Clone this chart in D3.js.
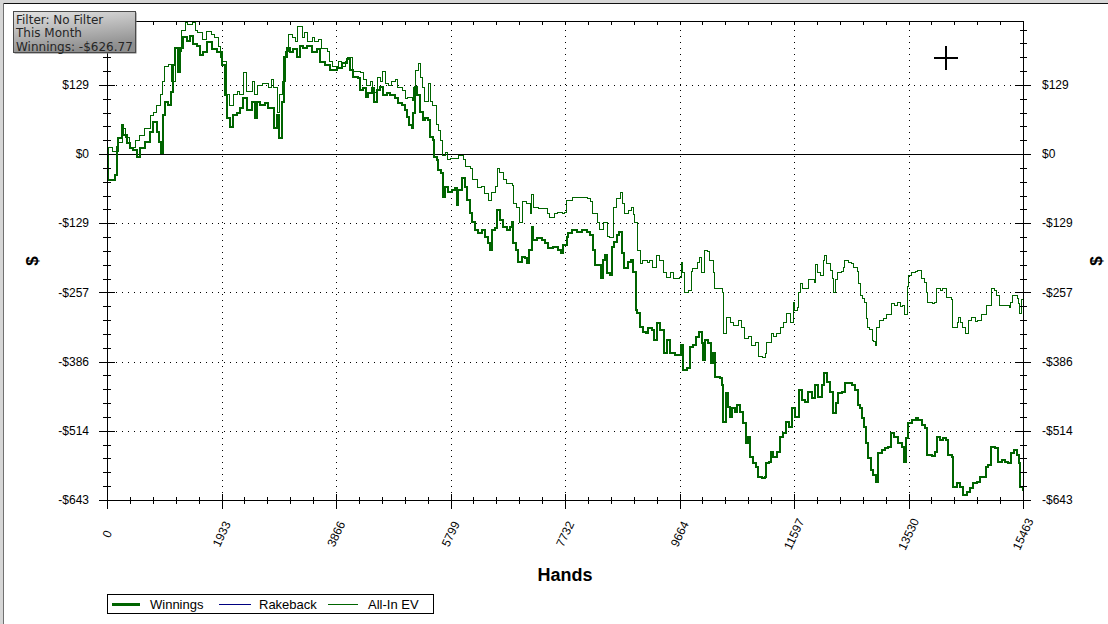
<!DOCTYPE html>
<html><head><meta charset="utf-8">
<script src="https://cdn.jsdelivr.net/npm/d3@7"></script>
<style>body{margin:0;background:#fff;overflow:hidden}svg{display:block}</style>
</head><body>
<svg id="chart" width="1108" height="624"></svg>
<script>
// ---------------- DATA ----------------
const xTickValues = [0, 1932.875, 3865.75, 5798.625, 7731.5, 9664.375, 11597.25, 13530.125, 15463];
const xTickLabels = ["0", "1933", "3866", "5799", "7732", "9664", "11597", "13530", "15463"];
const yTickValues = [128.6, 0, -128.6, -257.2, -385.8, -514.4, -643];
const yTickLabels = ["$129", "$0", "-$129", "-$257", "-$386", "-$514", "-$643"];
const seriesNames = ["Winnings", "Rakeback", "All-In EV"];
const infoLines = ["Filter: No Filter", "This Month", "Winnings: -$626.77"];

// [hands, dollars]
const winnings = [
[0,-2],[17,-48],[135,-39],[164,13],[191,30],[248,54],[275,35],[333,20],[388,11],[439,7],[506,-6],[557,11],[641,22],[726,41],[777,59],[844,41],[878,22],[912,2],[940,72],[979,97],[1030,91],[1075,115],[1109,166],[1148,197],[1199,153],[1232,197],[1283,217],[1350,210],[1401,219],[1452,204],[1519,200],[1570,185],[1621,190],[1688,208],[1772,195],[1857,190],[1941,166],[1992,110],[2026,67],[2076,50],[2127,72],[2195,76],[2245,85],[2296,104],[2363,82],[2448,97],[2498,67],[2532,97],[2583,91],[2667,95],[2718,85],[2785,85],[2819,48],[2870,72],[2904,30],[2954,97],[2988,180],[3039,197],[3089,190],[3140,195],[3207,180],[3258,200],[3309,197],[3376,200],[3461,190],[3545,195],[3596,172],[3680,166],[3764,156],
[3883,160],[3967,170],[4051,176],[4102,156],[4153,143],[4237,141],[4271,119],[4322,122],[4372,106],[4406,113],[4473,122],[4507,96],[4558,119],[4609,124],[4659,110],[4727,113],[4777,110],[4862,104],[4912,95],[4980,91],[5031,82],[5064,69],[5098,54],[5149,48],[5166,76],[5199,124],[5233,110],[5284,78],[5334,63],[5368,67],[5419,63],[5453,31],[5503,26],[5520,-6],[5571,-11],[5588,-30],[5638,-35],[5672,-80],[5706,-62],[5756,-71],[5824,-67],[5875,-63],[5908,-95],[5925,-67],[5993,-45],[6043,-62],[6077,-86],[6128,-110],[6162,-127],[6212,-141],[6263,-147],[6330,-141],[6381,-154],[6432,-166],[6465,-179],[6499,-141],[6550,-138],[6584,-104],[6634,-123],[6685,-136],[6752,-141],[6803,-136],[6837,-127],[6854,-166],[6904,-179],[6938,-201],[7006,-192],[7056,-193],[7090,-203],[7124,-179],[7174,-136],[7191,-160],[7259,-156],[7343,-160],[7394,-166],[7444,-175],[7529,-173],[7613,-179],[7664,-184],[7698,-169],[7765,-154],
[7782,-147],[7850,-141],[7934,-145],[8018,-141],[8103,-145],[8154,-151],[8204,-179],[8238,-206],[8289,-206],[8339,-231],[8373,-197],[8407,-188],[8441,-221],[8491,-225],[8525,-173],[8559,-164],[8609,-151],[8643,-145],[8694,-184],[8728,-212],[8795,-201],[8846,-197],[8880,-219],[8930,-290],[8947,-296],[8998,-322],[9048,-331],[9099,-333],[9133,-324],[9200,-327],[9234,-346],[9284,-314],[9335,-327],[9403,-370],[9453,-346],[9504,-370],[9588,-374],[9639,-374],[9690,-355],[9723,-401],[9791,-398],[9842,-359],[9892,-355],[9943,-340],[9994,-331],[10044,-351],[10061,-383],[10095,-346],[10146,-351],[10196,-388],[10230,-370],[10264,-414],[10348,-416],
[10382,-429],[10399,-498],[10449,-444],[10483,-470],[10517,-489],[10551,-472],[10601,-480],[10635,-466],[10686,-480],[10737,-500],[10787,-537],[10821,-526],[10855,-563],[10905,-574],[10956,-582],[10990,-600],[11058,-602],[11108,-600],[11125,-574],[11175,-572],[11209,-554],[11243,-563],[11310,-554],[11361,-526],[11412,-519],[11462,-498],[11513,-507],[11564,-472],[11614,-489],[11682,-439],[11732,-457],[11783,-461],[11834,-442],[11901,-453],[11951,-429],[12002,-452],[12070,-429],[12103,-407],[12154,-424],[12205,-442],[12255,-481],[12306,-463],[12340,-444],[12408,-442],[12458,-426],[12509,-426],[12576,-429],[12627,-439],[12677,-467],[12711,-472],[12745,-491],[12779,-507],[12813,-537],[12846,-565],[12897,-587],[12931,-597],[12981,-610],[13015,-556],[13083,-550],[13133,-546],[13184,-544],[13234,-519],[13285,-526],[13353,-537],[13420,-544],[13454,-572],[13488,-528],[13522,-500],[13589,-494],[13657,-491],[13690,-494],[13758,-504],[13808,-509],[13842,-559],[13927,-561],[13977,-554],[14011,-526],[14062,-531],[14112,-528],[14163,-531],[14197,-559],[14264,-563],[14281,-619],[14349,-611],[14399,-619],[14450,-634],[14518,-628],[14568,-621],[14619,-611],[14686,-610],[14737,-600],[14788,-600],[14838,-582],[14872,-578],[14923,-544],[14990,-546],[15041,-572],[15108,-569],[15159,-572],[15210,-574],[15260,-555],[15311,-550],[15362,-559],[15396,-574],[15412,-619],[15463,-627]
];

const allInEV = [
[0,-2],[17,13],[101,4],[186,22],[270,48],[304,30],[388,13],[473,26],[557,35],[641,48],[726,72],[777,78],[844,91],[895,110],[945,134],[979,162],[1030,166],[1097,134],[1148,197],[1199,190],[1266,230],[1317,245],[1367,240],[1435,245],[1486,230],[1536,226],[1604,213],[1688,228],[1772,222],[1823,217],[1874,200],[1924,180],[1958,172],[2009,110],[2076,91],[2127,110],[2195,116],[2245,110],[2296,151],[2363,116],[2448,134],[2498,110],[2549,128],[2633,132],[2718,124],[2785,138],[2819,124],[2870,78],[2920,110],[2971,134],[3005,190],[3056,222],[3123,217],[3174,210],[3224,237],[3292,217],[3342,226],[3393,210],[3461,217],[3511,210],[3562,213],[3629,197],[3714,190],[3764,172],[3815,162],
[3900,172],[3967,162],[4018,172],[4068,180],[4136,153],[4220,153],[4271,151],[4322,138],[4389,128],[4440,134],[4490,115],[4558,143],[4625,134],[4659,153],[4693,132],[4744,128],[4811,134],[4862,138],[4912,124],[4980,119],[5031,104],[5081,106],[5149,100],[5182,124],[5216,156],[5250,169],[5284,143],[5318,124],[5368,97],[5419,132],[5453,97],[5503,91],[5554,54],[5588,44],[5638,26],[5672,-2],[5706,2],[5740,-11],[5807,-8],[5875,-8],[5942,-2],[6010,-11],[6060,-24],[6128,-26],[6178,-48],[6246,-63],[6330,-61],[6381,-73],[6432,-86],[6499,-71],[6550,-61],[6600,-26],[6634,-35],[6685,-48],[6752,-54],[6837,-58],[6854,-91],[6921,-99],[6955,-127],[7006,-89],[7090,-91],[7141,-110],[7174,-76],[7208,-99],[7276,-101],[7360,-101],[7428,-110],[7478,-117],[7546,-110],[7613,-108],[7681,-110],
[7731,-108],[7765,-86],[7850,-80],[7934,-80],[8018,-80],[8103,-82],[8154,-89],[8204,-110],[8272,-128],[8322,-141],[8373,-127],[8441,-154],[8491,-156],[8542,-99],[8609,-82],[8660,-71],[8694,-91],[8744,-110],[8795,-104],[8846,-99],[8880,-113],[8913,-128],[8947,-179],[8998,-203],[9048,-197],[9116,-201],[9166,-197],[9217,-210],[9284,-188],[9335,-197],[9386,-221],[9453,-229],[9504,-221],[9555,-231],[9622,-231],[9656,-229],[9690,-201],[9723,-221],[9757,-257],[9808,-253],[9859,-219],[9892,-212],[9960,-201],[9994,-192],[10044,-221],[10078,-179],[10129,-182],[10179,-197],[10230,-221],[10247,-249],[10314,-249],[10382,-258],[10399,-333],[10466,-303],[10517,-314],[10568,-318],[10652,-309],[10719,-322],[10770,-342],[10821,-340],[10888,-355],[10939,-351],[10990,-377],[11058,-379],[11108,-370],[11141,-351],[11209,-333],[11243,-340],[11310,-333],[11361,-323],[11412,-314],[11479,-296],[11530,-314],
[11581,-275],[11614,-290],[11648,-286],[11665,-258],[11715,-240],[11749,-249],[11800,-249],[11834,-234],[11901,-234],[11935,-238],[11968,-206],[12002,-221],[12053,-225],[12087,-197],[12120,-188],[12154,-203],[12205,-216],[12239,-231],[12272,-257],[12306,-234],[12340,-221],[12391,-219],[12425,-210],[12458,-197],[12509,-201],[12576,-203],[12610,-210],[12661,-219],[12694,-240],[12728,-262],[12762,-268],[12779,-275],[12813,-305],[12846,-322],[12880,-327],[12914,-346],[12931,-349],[12981,-355],[12998,-323],[13049,-309],[13100,-305],[13167,-299],[13218,-299],[13251,-277],[13302,-281],[13336,-275],[13387,-284],[13437,-281],[13471,-299],[13505,-247],[13522,-225],[13589,-221],[13640,-219],[13690,-216],[13758,-231],[13808,-238],[13842,-257],[13859,-275],[13927,-277],[13977,-275],[14011,-249],[14062,-253],[14112,-249],[14146,-249],[14180,-266],[14264,-271],[14281,-322],[14349,-314],[14366,-303],[14416,-314],[14450,-323],[14484,-333],[14535,-309],[14602,-303],[14653,-312],[14703,-309],[14754,-299],[14821,-299],[14855,-281],[14889,-281],[14923,-249],[14990,-253],[15024,-262],[15058,-281],[15125,-281],[15193,-281],[15227,-286],[15260,-275],[15294,-262],[15362,-268],[15379,-277],[15412,-296],[15446,-271],[15463,-281]
];

// ---------------- CHART ----------------
const svg = d3.select("#chart");
const L = 107, R = 1023, T = 21, B = 500;
const x = d3.scaleLinear().domain([0, 15463]).range([L, R]);
const y = d3.scaleLinear().domain([-643, 247.3]).range([B, T]);
const font = "'Liberation Sans', Arial, sans-serif";

// window chrome
svg.append("rect").attr("x",0).attr("y",0).attr("width",1108).attr("height",3).attr("fill","#d6d6d6");
svg.append("rect").attr("x",0).attr("y",0).attr("width",3).attr("height",624).attr("fill","#d6d6d6");
svg.append("line").attr("x1",3).attr("x2",1108).attr("y1",3.5).attr("y2",3.5).attr("stroke","#111");
svg.append("line").attr("x1",3.5).attr("x2",3.5).attr("y1",3).attr("y2",624).attr("stroke","#707070");

// grid (dotted)
const grid = svg.append("g").attr("stroke","#000").attr("stroke-width",1).attr("stroke-dasharray","1,5")
  .attr("shape-rendering","crispEdges");
xTickValues.slice(1, -1).forEach(v => {
  const px = Math.round(x(v)) + 0.5;
  grid.append("line").attr("x1",px).attr("x2",px).attr("y1",T+3).attr("y2",B);
});
yTickValues.filter(v => v !== 0 && v !== -643).forEach(v => {
  const py = Math.round(y(v)) + 0.5;
  grid.append("line").attr("x1",L+3).attr("x2",R).attr("y1",py).attr("y2",py);
});

// zero line
svg.append("line").attr("x1",L).attr("x2",R).attr("y1",Math.round(y(0))+0.5).attr("y2",Math.round(y(0))+0.5)
  .attr("stroke","#000").attr("stroke-width",1).attr("shape-rendering","crispEdges");

// series (step-wise, as the tracker draws them)
const line = d3.line().x(d => x(d[0])).y(d => y(d[1])).curve(d3.curveStepAfter);
svg.append("path").datum(allInEV).attr("d", line).attr("fill","none")
  .attr("stroke","#006400").attr("stroke-width",1).attr("shape-rendering","crispEdges");
svg.append("path").datum(winnings).attr("d", line).attr("fill","none")
  .attr("stroke","#006400").attr("stroke-width",2).attr("shape-rendering","crispEdges");

// frame
svg.append("rect").attr("x",L+0.5).attr("y",T+0.5).attr("width",R-L).attr("height",B-T)
  .attr("fill","none").attr("stroke","#000").attr("stroke-width",1).attr("shape-rendering","crispEdges");

// ticks
const tk = svg.append("g").attr("stroke","#000").attr("stroke-width",1).attr("shape-rendering","crispEdges");
const yMinor = d3.range(-643, 247.3, 25.72);
yMinor.forEach(v => {
  const py = Math.round(y(v)) + 0.5;
  tk.append("line").attr("x1",L-4).attr("x2",L+4).attr("y1",py).attr("y2",py);
  tk.append("line").attr("x1",R-3).attr("x2",R+4).attr("y1",py).attr("y2",py);
});
yTickValues.forEach(v => {
  const py = Math.round(y(v)) + 0.5;
  tk.append("line").attr("x1",L-8).attr("x2",L+8).attr("y1",py).attr("y2",py);
  tk.append("line").attr("x1",R-8).attr("x2",R+8).attr("y1",py).attr("y2",py);
});
const xMinor = d3.range(0, 15464, 386.575);
xMinor.forEach(v => {
  const px = Math.round(x(v)) + 0.5;
  tk.append("line").attr("x1",px).attr("x2",px).attr("y1",B-3).attr("y2",B+4);
  tk.append("line").attr("x1",px).attr("x2",px).attr("y1",T).attr("y2",T+4);
});
xTickValues.forEach(v => {
  const px = Math.round(x(v)) + 0.5;
  tk.append("line").attr("x1",px).attr("x2",px).attr("y1",B-6).attr("y2",B+9);
});

// tick labels
yTickValues.forEach((v, i) => {
  svg.append("text").attr("x", 89).attr("y", y(v)).attr("dy","0.35em")
    .attr("text-anchor","end").attr("font-family",font).attr("font-size",12).attr("fill","#000")
    .text(yTickLabels[i]);
  svg.append("text").attr("x", 1042).attr("y", y(v)).attr("dy","0.35em")
    .attr("text-anchor","start").attr("font-family",font).attr("font-size",12).attr("fill","#000")
    .text(yTickLabels[i]);
});
xTickValues.forEach((v, i) => {
  svg.append("text").attr("transform",`translate(${x(v)},534) rotate(-65)`)
    .attr("dy","0.35em").attr("text-anchor","middle").attr("font-family",font).attr("font-size",12)
    .attr("fill","#000").text(xTickLabels[i]);
});

// axis titles
svg.append("text").attr("transform","translate(32,261) rotate(-90)").attr("dy","0.35em")
  .attr("text-anchor","middle").attr("font-family",font).attr("font-size",17).attr("font-weight","bold").text("$");
svg.append("text").attr("transform","translate(1096,261) rotate(-90)").attr("dy","0.35em")
  .attr("text-anchor","middle").attr("font-family",font).attr("font-size",17).attr("font-weight","bold").text("$");
svg.append("text").attr("x",565).attr("y",581).attr("text-anchor","middle").attr("font-family",font)
  .attr("font-size",18).attr("font-weight","bold").text("Hands");

// legend
const lg = svg.append("g");
lg.append("rect").attr("x",107.5).attr("y",594.5).attr("width",326).attr("height",19)
  .attr("fill","#fff").attr("stroke","#000").attr("stroke-width",1).attr("shape-rendering","crispEdges");
const legendStyles = [
  {x1:112, x2:140, tx:150, color:"#006400", w:3},
  {x1:219, x2:251, tx:259, color:"#000080", w:1},
  {x1:328, x2:358, tx:368, color:"#006400", w:1}
];
seriesNames.forEach((name, i) => {
  const s = legendStyles[i];
  lg.append("line").attr("x1",s.x1).attr("x2",s.x2).attr("y1",604.5).attr("y2",604.5)
    .attr("stroke",s.color).attr("stroke-width",s.w).attr("shape-rendering","crispEdges");
  lg.append("text").attr("x",s.tx).attr("y",604).attr("dy","0.36em").attr("font-family",font)
    .attr("font-size",13).attr("fill","#000").text(name);
});

// crosshair cursor
svg.append("line").attr("x1",934).attr("x2",958).attr("y1",58).attr("y2",58).attr("stroke","#000").attr("stroke-width",2);
svg.append("line").attr("x1",946).attr("x2",946).attr("y1",46).attr("y2",70).attr("stroke","#000").attr("stroke-width",2);

// info box
const defs = svg.append("defs");
const grad = defs.append("linearGradient").attr("id","boxg").attr("x1","0").attr("y1","0").attr("x2","0.3").attr("y2","1");
grad.append("stop").attr("offset","0%").attr("stop-color","#e4e4e4");
grad.append("stop").attr("offset","100%").attr("stop-color","#8e8e8e");
svg.append("rect").attr("x",14.5).attr("y",12.5).attr("width",122).attr("height",41).attr("fill","#777");
svg.append("rect").attr("x",13.5).attr("y",11.5).attr("width",122).attr("height",41)
  .attr("fill","url(#boxg)").attr("stroke","#4a4a4a").attr("stroke-width",1);
infoLines.forEach((t, i) => {
  svg.append("text").attr("x",16).attr("y",24 + i*13.3).attr("font-family","'DejaVu Sans', Verdana, sans-serif")
    .attr("font-size",12).attr("fill","#262626").text(t);
});
</script>
</body></html>
